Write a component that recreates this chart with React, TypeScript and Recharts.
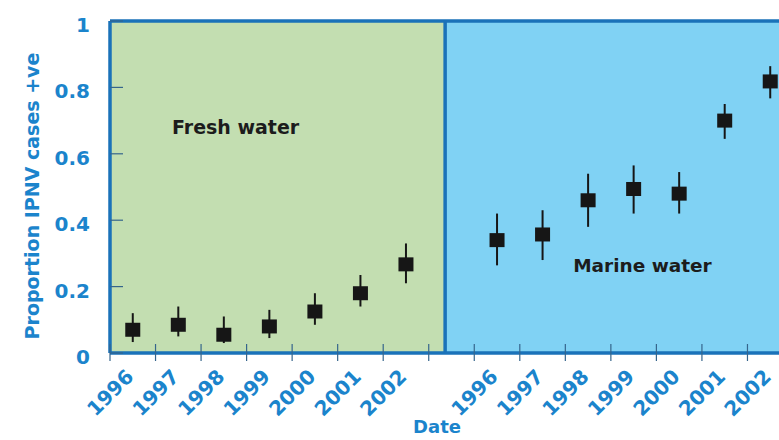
import React from 'react';
import {
  ComposedChart,
  Scatter,
  ErrorBar,
  XAxis,
  YAxis,
  ReferenceArea,
  ReferenceLine,
} from 'recharts';

// ---- data ----
const years = ['1996', '1997', '1998', '1999', '2000', '2001', '2002'];
const freshPositions = [1, 2, 3, 4, 5, 6, 7];
const marinePositions = [9, 10, 11, 12, 13, 14, 15];

const freshValues = [0.07, 0.085, 0.055, 0.08, 0.125, 0.18, 0.267];
const freshLow = [0.033, 0.05, 0.03, 0.045, 0.085, 0.14, 0.21];
const freshHigh = [0.12, 0.14, 0.11, 0.13, 0.18, 0.235, 0.33];

const marineValues = [0.34, 0.357, 0.46, 0.494, 0.48, 0.7, 0.818];
const marineLow = [0.264, 0.28, 0.38, 0.42, 0.42, 0.645, 0.767];
const marineHigh = [0.42, 0.43, 0.54, 0.565, 0.545, 0.75, 0.864];

const yTicks = [0, 0.2, 0.4, 0.6, 0.8, 1];
const xTicks = [1, 2, 3, 4, 5, 6, 7, 8, 9, 10, 11, 12, 13, 14, 15];
const X_DOMAIN: [number, number] = [0.5, 15.5];
const PANEL_SPLIT = 7.86;

const freshData = freshPositions.map((p, i) => ({
  pos: p,
  value: freshValues[i],
  err: [freshValues[i] - freshLow[i], freshHigh[i] - freshValues[i]],
}));
const marineData = marinePositions.map((p, i) => ({
  pos: p,
  value: marineValues[i],
  err: [marineValues[i] - marineLow[i], marineHigh[i] - marineValues[i]],
}));

const yearOf = (pos: number) => {
  const fi = freshPositions.indexOf(pos);
  if (fi >= 0) return years[fi];
  const mi = marinePositions.indexOf(pos);
  return mi >= 0 ? years[mi] : '';
};

// ---- layout & styles ----
const CHART_W = 795;
const CHART_H = 440;
const Y_AXIS_W = 110;
const MARGIN = { top: 21, right: 2, bottom: 0, left: 0 };
const PLOT_W = CHART_W - MARGIN.left - MARGIN.right - Y_AXIS_W;
const HALF_BAND = PLOT_W / (X_DOMAIN[1] - X_DOMAIN[0]) / 2;

const AXIS_BLUE = '#1a72b9';
const TEXT_BLUE = '#1b84cc';
const TICK_COLOR = '#35658c';
const GREEN = '#c3deb1';
const BLUE = '#80d2f4';
const MARK = '#161616';
const FONT = '"DejaVu Sans", sans-serif';

const SquareShape = (props: any) => {
  const { cx, cy } = props;
  if (cx == null || cy == null) return null;
  return <rect x={cx - 7.5} y={cy - 7} width={15} height={14} fill={MARK} />;
};

const XLabelTick = (props: any) => {
  const { x, y, payload } = props;
  const tx = x + 2;
  const ty = y + 25;
  const mx = x - HALF_BAND;
  return (
    <g>
      <line x1={mx} x2={mx} y1={y - 9} y2={y + 8} stroke={TICK_COLOR} strokeWidth={1.2} />
      <text
        x={tx}
        y={ty}
        transform={`rotate(-45, ${tx}, ${ty})`}
        textAnchor="end"
        fill={TEXT_BLUE}
        fontFamily={FONT}
        fontWeight={700}
        fontSize={20}
      >
        {yearOf(payload.value)}
      </text>
    </g>
  );
};

const YTick = (props: any) => {
  const { x, y, payload } = props;
  return (
    <g>
      <line x1={x + 20} x2={x + 33} y1={y} y2={y} stroke={TICK_COLOR} strokeWidth={1.2} />
      <text
        x={x}
        y={y + 4}
        textAnchor="end"
        dominantBaseline="central"
        fill={TEXT_BLUE}
        fontFamily={FONT}
        fontWeight={700}
        fontSize={20}
      >
        {String(payload.value)}
      </text>
    </g>
  );
};

const YTitle = (props: any) => {
  const vb = props.viewBox || {};
  const cx = vb.x + 32;
  const cy = vb.y + vb.height / 2 + 9;
  return (
    <text
      x={cx}
      y={cy}
      transform={`rotate(-90, ${cx}, ${cy})`}
      textAnchor="middle"
      dominantBaseline="central"
      fill={TEXT_BLUE}
      fontFamily={FONT}
      fontWeight={700}
      fontSize={19}
    >
      Proportion IPNV cases +ve
    </text>
  );
};

const XTitle = (props: any) => {
  const vb = props.viewBox || {};
  return (
    <text
      x={vb.x + 327}
      y={vb.y + 80}
      textAnchor="middle"
      fill={TEXT_BLUE}
      fontFamily={FONT}
      fontWeight={700}
      fontSize={18}
    >
      Date
    </text>
  );
};

const FreshLabel = (props: any) => {
  const vb = props.viewBox || {};
  return (
    <text x={vb.x + 62} y={vb.y + 113} fill="#1c1c1c" fontFamily={FONT} fontWeight={700} fontSize={19}>
      Fresh water
    </text>
  );
};

const MarineLabel = (props: any) => {
  const vb = props.viewBox || {};
  return (
    <text x={vb.x + 128} y={vb.y + 251} fill="#1c1c1c" fontFamily={FONT} fontWeight={700} fontSize={18.5}>
      Marine water
    </text>
  );
};

export default function App() {
  return (
    <div
      style={{
        position: 'absolute',
        left: 0,
        top: 0,
        width: 779,
        height: 440,
        overflow: 'hidden',
        background: '#ffffff',
      }}
    >
      <ComposedChart width={CHART_W} height={CHART_H} margin={MARGIN}>
        <XAxis
          xAxisId="labels"
          type="number"
          dataKey="pos"
          domain={X_DOMAIN}
          ticks={xTicks}
          interval={0}
          height={87}
          tickLine={false}
          tickSize={0}
          tickMargin={0}
          tick={<XLabelTick />}
          axisLine={{ stroke: AXIS_BLUE, strokeWidth: 3.5 }}
          label={<XTitle />}
        />
        <YAxis
          type="number"
          domain={[0, 1]}
          ticks={yTicks}
          interval={0}
          width={Y_AXIS_W}
          tickSize={0}
          tickMargin={20}
          tickLine={false}
          axisLine={{ stroke: AXIS_BLUE, strokeWidth: 3.5 }}
          tick={<YTick />}
          label={<YTitle />}
        />
        <ReferenceArea
          xAxisId="labels"
          x1={X_DOMAIN[0]}
          x2={PANEL_SPLIT}
          y1={0}
          y2={1}
          fill={GREEN}
          fillOpacity={1}
          stroke="none"
          label={<FreshLabel />}
        />
        <ReferenceArea
          xAxisId="labels"
          x1={PANEL_SPLIT}
          x2={X_DOMAIN[1]}
          y1={0}
          y2={1}
          fill={BLUE}
          fillOpacity={1}
          stroke="none"
          label={<MarineLabel />}
        />
        <ReferenceLine xAxisId="labels" x={PANEL_SPLIT} stroke={AXIS_BLUE} strokeWidth={3.5} />
        <ReferenceLine xAxisId="labels" y={1} stroke={AXIS_BLUE} strokeWidth={3.5} />
        <Scatter
          xAxisId="labels"
          data={freshData}
          dataKey="value"
          shape={<SquareShape />}
          isAnimationActive={false}
        >
          <ErrorBar dataKey="err" direction="y" width={0} stroke={MARK} strokeWidth={2} isAnimationActive={false} />
        </Scatter>
        <Scatter
          xAxisId="labels"
          data={marineData}
          dataKey="value"
          shape={<SquareShape />}
          isAnimationActive={false}
        >
          <ErrorBar dataKey="err" direction="y" width={0} stroke={MARK} strokeWidth={2} isAnimationActive={false} />
        </Scatter>
      </ComposedChart>
    </div>
  );
}
